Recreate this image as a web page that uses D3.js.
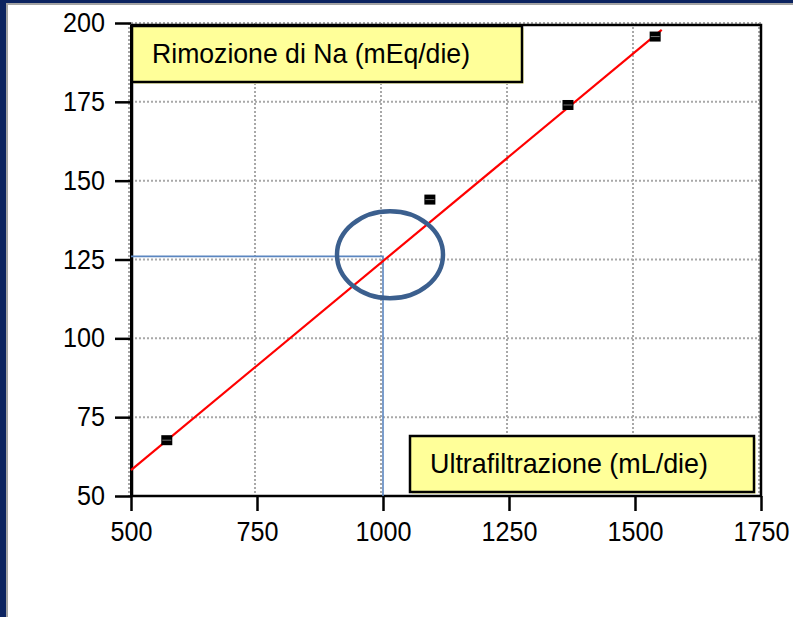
<!DOCTYPE html>
<html>
<head>
<meta charset="utf-8">
<script src="https://cdn.jsdelivr.net/npm/d3@7"></script>
<style>
  html, body { margin: 0; padding: 0; background: #ffffff; }
  svg { display: block; }
</style>
</head>
<body>
<svg id="chart" width="793" height="617"></svg>
<script>
// Measured points: ultrafiltration (mL/day) vs sodium removal (mEq/day)
const ufValues = [571, 1093, 1367, 1540];
const naValues = [67.7, 144, 174, 195.7];

// Linear fit drawn across the data range
const fitRange = [500, 1553];
const fitSlope = 0.1326;
const fitIntercept = -8.1;

// Reference reading at 1000 mL/day
const refUf = 1000;
const refNa = 126;

const xTicks = [500, 750, 1000, 1250, 1500, 1750];
const yTicks = [50, 75, 100, 125, 150, 175, 200];

const yTitle = "Rimozione di Na (mEq/die)";
const xTitle = "Ultrafiltrazione (mL/die)";

const svg = d3.select("#chart");
const font = "'Liberation Sans', Arial, sans-serif";

const x = d3.scaleLinear().domain([500, 1750]).range([131, 761]);
const y = d3.scaleLinear().domain([50, 200]).range([496, 23]);

// Slide frame (navy band on top and left edge)
svg.append("rect").attr("x", 0).attr("y", 0).attr("width", 793).attr("height", 3).attr("fill", "#0b2360");
svg.append("rect").attr("x", 0).attr("y", 3).attr("width", 793).attr("height", 2).attr("fill", "#a3a3a3");
svg.append("rect").attr("x", 0).attr("y", 0).attr("width", 6).attr("height", 617).attr("fill", "#0b2360");
svg.append("rect").attr("x", 6).attr("y", 3).attr("width", 2).attr("height", 614).attr("fill", "#a3a3a3");

// Dotted grid
const grid = svg.append("g");
grid.selectAll("line.gx").data(xTicks).join("line")
  .attr("x1", d => x(d) - 2).attr("x2", d => x(d) - 2)
  .attr("y1", y(200)).attr("y2", y(50))
  .attr("stroke", "#a8a8a8").attr("stroke-width", 2).attr("stroke-dasharray", "2,2");
grid.selectAll("line.gy").data(yTicks).join("line")
  .attr("x1", x(500)).attr("x2", x(1750))
  .attr("y1", d => y(d)).attr("y2", d => y(d))
  .attr("stroke", "#a8a8a8").attr("stroke-width", 2).attr("stroke-dasharray", "2,2");

// Plot frame
svg.append("rect")
  .attr("x", x(500) + 1).attr("y", y(200) + 2)
  .attr("width", x(1750) - x(500) - 1).attr("height", y(50) - y(200) - 2)
  .attr("fill", "none").attr("stroke", "#000").attr("stroke-width", 2.5);

// Axes with outward ticks
const xAxis = svg.append("g").attr("transform", `translate(0,${y(50)})`)
  .call(d3.axisBottom(x).tickValues(xTicks).tickSize(15).tickPadding(11).tickFormat(d3.format("d")));
const yAxis = svg.append("g").attr("transform", `translate(${x(500)},0)`)
  .call(d3.axisLeft(y).tickValues(yTicks).tickSize(16).tickPadding(10).tickFormat(d3.format("d")));
[xAxis, yAxis].forEach(g => {
  g.select(".domain").attr("stroke", "#000").attr("stroke-width", 2);
  g.selectAll(".tick line").attr("stroke", "#000").attr("stroke-width", 2.5);
  g.selectAll(".tick text").attr("fill", "#000").attr("font-family", font).attr("font-size", 27)
    .attr("textLength", function () { return this.textContent.length * 14; })
    .attr("lengthAdjust", "spacingAndGlyphs");
});
xAxis.select(".domain").attr("d", `M${x(500)},0H${x(1750)}`);
yAxis.select(".domain").attr("d", `M0,${y(200) + 2}V${y(50)}`);

// Reference guide lines
svg.append("path")
  .attr("d", `M${x(500)},${y(refNa)}H${x(refUf)}V${y(50)}`)
  .attr("fill", "none").attr("stroke", "#5b86c0").attr("stroke-width", 1.6);

// Regression line
svg.append("line")
  .attr("x1", x(fitRange[0])).attr("y1", y(fitIntercept + fitSlope * fitRange[0]))
  .attr("x2", x(fitRange[1])).attr("y2", y(fitIntercept + fitSlope * fitRange[1]))
  .attr("stroke", "#ff0000").attr("stroke-width", 2.2);

// Markers
const pts = ufValues.map((v, i) => ({ uf: v, na: naValues[i] }));
const mk = svg.append("g").selectAll("g").data(pts).join("g")
  .attr("transform", d => `translate(${x(d.uf)},${y(d.na)})`);
mk.append("rect").attr("x", -5.5).attr("y", -5).attr("width", 11).attr("height", 10).attr("fill", "#000");
mk.append("rect").attr("x", -4.5).attr("y", -0.5).attr("width", 9).attr("height", 1).attr("fill", "#777");

// Highlight ellipse around the reference point
svg.append("ellipse")
  .attr("cx", x(refUf) + 7).attr("cy", y(refNa) - 1.5)
  .attr("rx", 53).attr("ry", 43.5)
  .attr("fill", "none").attr("stroke", "#3b5f8e").attr("stroke-width", 4.5);

// Label boxes
function labelBox(x0, y0, w, h, text, tx, ty, tl) {
  svg.append("rect").attr("x", x0 + 2).attr("y", y0 + 2).attr("width", w).attr("height", h).attr("fill", "#ffffc0");
  svg.append("rect").attr("x", x0).attr("y", y0).attr("width", w).attr("height", h)
    .attr("fill", "#ffff99").attr("stroke", "#000").attr("stroke-width", 2.5);
  svg.append("text").attr("x", tx).attr("y", ty)
    .attr("font-family", font).attr("font-size", 27.5).attr("fill", "#000")
    .attr("textLength", tl).attr("lengthAdjust", "spacingAndGlyphs")
    .text(text);
}
labelBox(132, 26, 390, 56, yTitle, 152, 63, 318);
labelBox(410, 436, 344, 56, xTitle, 430, 473, 278);
</script>
</body>
</html>
